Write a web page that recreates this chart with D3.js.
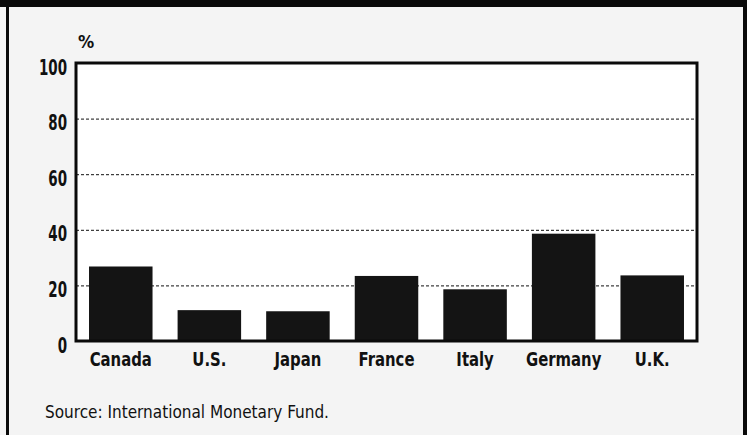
<!DOCTYPE html>
<html><head><meta charset="utf-8">
<script src="https://cdn.jsdelivr.net/npm/d3@7"></script>
<style>
html,body{margin:0;padding:0;background:#fff;}
svg{display:block;}
text{font-family:"DejaVu Sans",sans-serif;font-stretch:condensed;fill:#111;}
</style></head><body>
<svg id="c" width="747" height="435"></svg>
<script>
const categories = ["Canada","U.S.","Japan","France","Italy","Germany","U.K."];
const values = [26.8, 11.1, 10.7, 23.4, 18.6, 38.6, 23.6];
const yTicks = [0, 20, 40, 60, 80, 100];
const gridTicks = [20, 40, 60, 80];
const unitLabel = "%";
const sourceText = "Source: International Monetary Fund.";

const svg = d3.select("#c");
const W = 747, H = 435;
const pLeft = 76, pRight = 697, pTop = 63, pBottom = 341;

svg.append("rect").attr("x",0).attr("y",0).attr("width",W).attr("height",H).attr("fill","#f4f4f4");
svg.append("rect").attr("x",0).attr("y",0).attr("width",W).attr("height",7).attr("fill","#0a0a0a");
svg.append("rect").attr("x",6).attr("y",0).attr("width",3).attr("height",H).attr("fill","#0a0a0a");
svg.append("rect").attr("x",743).attr("y",0).attr("width",4).attr("height",H).attr("fill","#0a0a0a");

const x = d3.scaleBand().domain(categories).range([pLeft, pRight]).paddingInner(0.283).paddingOuter(0.147);
const y = d3.scaleLinear().domain([0, 100]).range([pBottom, pTop]);

svg.append("rect").attr("x",pLeft).attr("y",pTop).attr("width",pRight-pLeft).attr("height",pBottom-pTop).attr("fill","#fff");

svg.append("g").selectAll("line").data(gridTicks).join("line")
  .attr("x1",pLeft).attr("x2",pRight)
  .attr("y1",d=>y(d)+0.5).attr("y2",d=>y(d)+0.5)
  .attr("stroke","#111").attr("stroke-width",1).attr("stroke-dasharray","3,2");

svg.append("g").selectAll("rect").data(values).join("rect")
  .attr("x",(d,i)=>x(categories[i]))
  .attr("width",x.bandwidth())
  .attr("y",d=>y(d))
  .attr("height",d=>y(0)-y(d))
  .attr("fill","#141414");

svg.append("rect").attr("x",pLeft).attr("y",pTop).attr("width",pRight-pLeft).attr("height",pBottom-pTop)
  .attr("fill","none").attr("stroke","#0a0a0a").attr("stroke-width",3);

// y axis labels (horizontally squeezed to mimic a condensed face)
const syY = 0.68;
const yAxis = d3.axisLeft(y).tickValues(yTicks).tickSize(0).tickPadding(9);
const gy = svg.append("g").attr("transform",`translate(${pLeft},0)`).call(yAxis);
gy.select(".domain").remove();
gy.selectAll("text")
  .style("font-size","22px").style("font-weight","bold").attr("fill","#111")
  .attr("x", -9/syY).attr("dy","0.5em")
  .attr("transform",`scale(${syY},1)`);

const sxX = 0.87;
const xAxis = d3.axisBottom(x).tickSize(0).tickPadding(12);
const gx = svg.append("g").attr("transform",`translate(0,${pBottom})`).call(xAxis);
gx.select(".domain").remove();
gx.selectAll("text").style("font-size","19px").style("font-weight","bold").attr("fill","#111")
  .attr("transform",`scale(${sxX},1)`);
svg.selectAll("g").attr("font-family",null);

svg.append("text").attr("x",78).attr("y",48).text(unitLabel)
  .style("font-size","18px").style("font-weight","bold");

svg.append("text").attr("x",45).attr("y",418).text(sourceText)
  .style("font-size","17px");
</script>
</body></html>
